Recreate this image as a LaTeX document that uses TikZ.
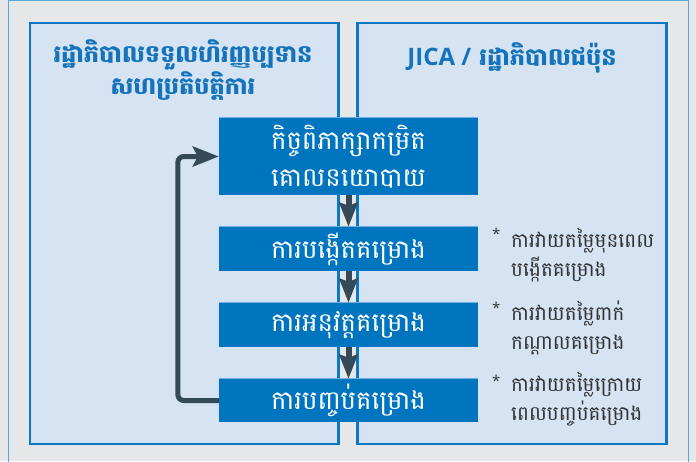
\documentclass[tikz,border=0pt]{standalone}
\usepackage{fontspec}
\newfontfamily\khm[Script=Khmer]{Battambang}
\newfontfamily\latsans{Open Sans}
\usetikzlibrary{arrows.meta}
\definecolor{bggray}{HTML}{E6E7E9}
\definecolor{framelb}{HTML}{5AA9DC}
\definecolor{panelfill}{HTML}{D5E3F2}
\definecolor{panelline}{HTML}{0A78C2}
\definecolor{boxfill}{HTML}{0075BF}
\definecolor{boxtop}{HTML}{6FB0E0}
\definecolor{arrowc}{HTML}{344A59}
\definecolor{titlec}{HTML}{1473BA}
\definecolor{notec}{HTML}{333333}
\tikzset{
  panel/.style={draw=panelline, line width=2.5pt, fill=panelfill},
  stepbox/.style={fill=boxfill, minimum width=259pt, inner sep=0pt, text=white,
    align=center, font=\khm\fontsize{26}{37}\selectfont},
  titletext/.style={text=titlec, align=center, font=\khm\bfseries\fontsize{24}{28}\selectfont},
  notetext/.style={text=notec, align=left, anchor=base west, inner sep=0pt,
    font=\khm\fontsize{20}{29}\selectfont},
  startext/.style={text=notec, anchor=north west, inner sep=0pt, font=\latsans\fontsize{15}{15}\selectfont},
  dnarrow/.style={draw=arrowc, line width=6pt, -{Stealth[length=24pt,width=18pt,inset=3pt]}},
  fbarrow/.style={draw=arrowc, line width=5pt, rounded corners=6pt, -{Stealth[length=26pt,width=20pt,inset=5pt]}}
}
\begin{document}
\begin{tikzpicture}[x=1pt,y=-1pt]
\useasboundingbox (0,0) rectangle (696,461);
\fill[bggray] (0,0) rectangle (696,461);
\draw[framelb, line width=1.2pt] (8.5,470) -- (8.5,0.6) -- (688.5,0.6) -- (688.5,470);
% panels
\draw[panel] (30,23) rectangle (338.5,444);
\draw[panel] (357.5,23) rectangle (666.5,444);
% titles
\node[titletext] (tl) at (183,70) {រដ្ឋាភិបាលទទួលហិរញ្ញប្បទាន\\សហប្រតិបត្តិការ};
\node[titletext] (tr) at (512,58) {{\latsans\bfseries JICA /} រដ្ឋាភិបាលជប៉ុន};
% boxes
\node[stepbox, minimum height=77pt] (b1) at (348.5,156.5) {កិច្ចពិភាក្សាកម្រិត\\គោលនយោបាយ};
\node[stepbox, minimum height=44pt] (b2) at (348.5,249) {ការបង្កើតគម្រោង};
\node[stepbox, minimum height=44pt] (b3) at (348.5,325) {ការអនុវត្តគម្រោង};
\node[stepbox, minimum height=43pt] (b4) at (348.5,400.5) {ការបញ្ចប់គម្រោង};
\foreach \b in {b1,b2,b3,b4}{
  \draw[boxtop, line width=1pt] (\b.north west) -- (\b.north east);
}
% arrows
\draw[dnarrow] (b1.south) -- (b2.north);
\draw[dnarrow] (b2.south) -- (b3.north);
\draw[dnarrow] (b3.south) -- (b4.north);
\draw[fbarrow] (b4.west) -- ++(-41,0) |- (b1.west);
% notes
\node[startext] (s1) at (492,228) {*};
\node[notetext] (n1) at (511,276) {ការវាយតម្លៃមុនពេល\\បង្កើតគម្រោង};
\node[startext] (s2) at (492,302) {*};
\node[notetext] (n2) at (511,349) {ការវាយតម្លៃពាក់\\កណ្តាលគម្រោង};
\node[startext] (s3) at (492,375) {*};
\node[notetext] (n3) at (511,420) {ការវាយតម្លៃក្រោយ\\ពេលបញ្ចប់គម្រោង};
\end{tikzpicture}
\end{document}
